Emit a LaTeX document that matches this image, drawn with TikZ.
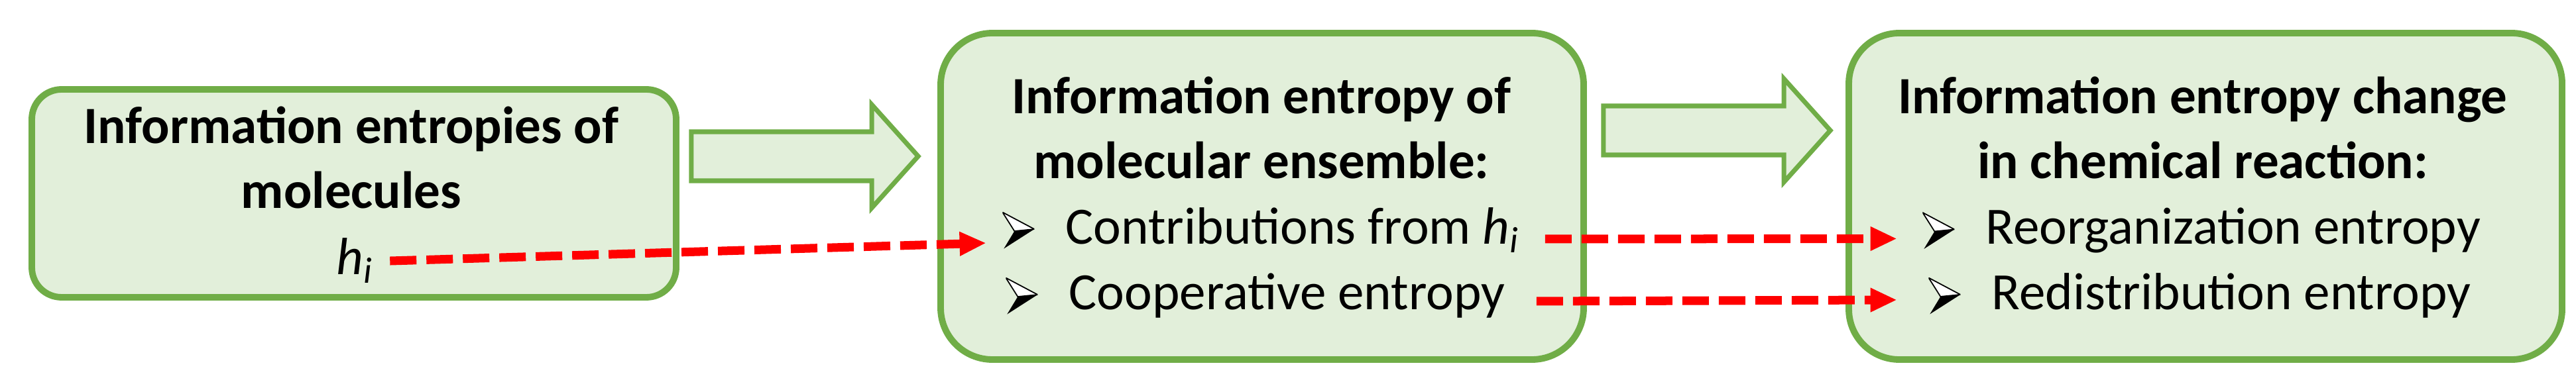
\documentclass[tikz,border=0pt]{standalone}
\usepackage{fontspec}
\setmainfont{Carlito}
\usetikzlibrary{positioning,calc,arrows.meta}
\definecolor{leafgreen}{HTML}{70AD47}
\definecolor{leaffill}{HTML}{E2EFDA}
\definecolor{dashred}{HTML}{FF0000}
\newcommand\txtsize{\fontsize{22.5}{27.9}\selectfont}
\newcommand\hvar{\textit{h}\textsubscript{\textit{i}}}
\newcommand\blockarrow[2]{\draw[hollow]let\p1=(#1),\p2=(#2)in(\x1,\y1-3.7mm)--(\x2-7mm,\y1-3.7mm)--(\x2-7mm,\y1-7.8mm)--(\x2,\y2)--(\x2-7mm,\y1+7.8mm)--(\x2-7mm,\y1+3.7mm)--(\x1,\y1+3.7mm)--cycle;}
\tikzset{
panel/.style={draw=leafgreen,fill=leaffill,line width=2.8pt,rounded corners=#1},
panel/.default=7.5mm,
head/.style={font=\txtsize\bfseries,align=center,inner sep=0pt,anchor=base},
item/.style={font=\txtsize,inner sep=0pt,anchor=base west},
bul/.style={inner sep=0pt,minimum width=4.8mm,minimum height=5.5mm,path picture={
\begin{scope}[shift={(path picture bounding box.center)}]
\draw[fill=white,line width=.5pt](-2.4mm,2.75mm)--(2.4mm,.2mm)--(-.6mm,-.1mm)--cycle;
\fill(-.6mm,-.1mm)--(2.4mm,.2mm)--(-2.2mm,-2.75mm)--cycle;
\end{scope}}},
hollow/.style={draw=leafgreen,fill=leaffill,line width=2pt},
hop/.style={dashred,line width=3.7pt,dash pattern=on 4mm off 1.5mm,-{Triangle[length=4mm,width=3.4mm]}}
}
\begin{document}
\begin{tikzpicture}
\useasboundingbox(0,0)rectangle(38.86,5.89);
\node[panel=4.5mm,minimum width=9.72cm,minimum height=3.14cm](mol)at(5.34,2.97){};
\node[panel=7.8mm,minimum width=9.7cm,minimum height=4.93cm](ens)at(19.04,2.925){};
\node[panel=7.6mm,minimum width=10.76cm,minimum height=4.93cm](chg)at(33.27,2.925){};
\node[head](molhd)at(5.3,2.74){Information entropies of\\molecules};
\node[font=\txtsize,inner sep=0pt,anchor=base](hi)at(5.35,1.74){\hvar};
\node[head](enshd)at(19.03,3.19){Information entropy of\\molecular ensemble:};
\node[item](contrib)at(16.07,2.2){Contributions from \hvar};
\node[item](coop)at(16.12,1.21){Cooperative entropy};
\node[head](chghd)at(33.23,3.19){Information entropy change\\in chemical reaction:};
\node[item](reorg)at(29.95,2.2){Reorganization entropy};
\node[item](redist)at(30.04,1.21){Redistribution entropy};
\node[bul,left=4.6mm of contrib](b1){};
\node[bul,left=4.6mm of coop](b2){};
\node[bul,left=4.6mm of reorg](b3){};
\node[bul,left=4.6mm of redist](b4){};
\coordinate(a1from)at($(mol.east)+(1.8mm,5.6mm)$);
\coordinate(a1to)at($(a1from-|ens.west)+(-2.9mm,0)$);
\coordinate(a2from)at($(ens.east)+(2.5mm,9.95mm)$);
\coordinate(a2to)at($(a2from-|chg.west)+(-2.3mm,0)$);
\blockarrow{a1from}{a1to}
\blockarrow{a2from}{a2to}
\draw[hop]([xshift=2.5mm]hi.east)--([xshift=-2.4mm,yshift=-1.9mm]b1.west);
\draw[hop]([xshift=3.8mm,yshift=.8mm]contrib.base east)--([xshift=-3.8mm,yshift=-1.2mm]b3.west);
\draw[hop]([xshift=4.7mm,yshift=1.3mm]coop.base east)--([xshift=-4.7mm,yshift=-.6mm]b4.west);
\end{tikzpicture}
\end{document}
